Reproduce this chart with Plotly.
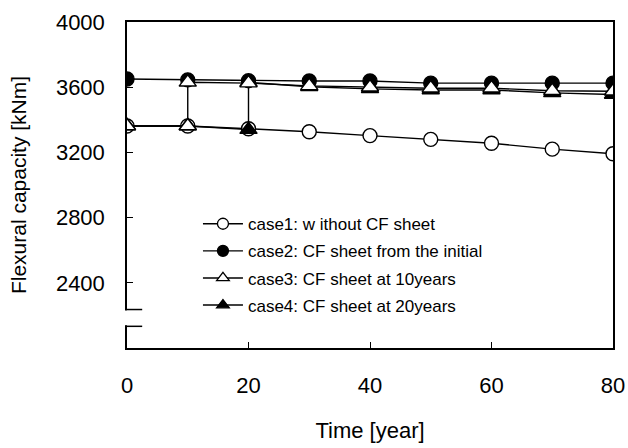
import plotly.graph_objects as go

# Data
case1_x = [0, 10, 20, 30, 40, 50, 60, 70, 80]
case1_y = [3362, 3362, 3345, 3327, 3303, 3280, 3256, 3220, 3192]

case2_x = [0, 10, 20, 30, 40, 50, 60, 70, 80]
case2_y = [3650, 3645, 3640, 3638, 3638, 3625, 3625, 3625, 3625]

case3_x = [0, 10, 10, 20, 30, 40, 50, 60, 70, 80]
case3_y = [3362, 3362, 3630, 3625, 3608, 3600, 3594, 3594, 3578, 3575]

case4_x = [0, 10, 20, 20, 30, 40, 50, 60, 70, 80]
case4_y = [3362, 3362, 3340, 3630, 3603, 3590, 3583, 3583, 3565, 3555]

names = [
    "case1: w ithout CF sheet",
    "case2: CF sheet from the initial",
    "case3: CF sheet at 10years",
    "case4: CF sheet at 20years",
]

x_ticks = [0, 20, 40, 60, 80]
y_ticks = [2400, 2800, 3200, 3600, 4000]

FONT = "Liberation Sans, Arial, sans-serif"

fig = go.Figure()
line = dict(color="black", width=1.4)

series = [
    (case1_x, case1_y, "circle", "white", 14, 0),
    (case2_x, case2_y, "circle", "black", 14, 1),
    (case4_x, case4_y, "triangle-up", "black", 15, 3),
    (case3_x, case3_y, "triangle-up", "white", 15, 2),
]
for xs, ys, sym, fill, sz, idx in series:
    fig.add_trace(go.Scatter(x=xs, y=ys, mode="lines+markers", name=names[idx],
                             showlegend=False, line=line,
                             marker=dict(symbol=sym, size=sz, color=fill,
                                         line=dict(color="black", width=1.4))))

# legend entries with smaller symbols, in case order
legend_specs = [("circle", "white"), ("circle", "black"),
                ("triangle-up", "white"), ("triangle-up", "black")]
for idx, (sym, fill) in enumerate(legend_specs):
    fig.add_trace(go.Scatter(x=[None], y=[None], mode="lines+markers", name=names[idx],
                             legendgroup=f"g{idx}", line=line,
                             marker=dict(symbol=sym, size=11, color=fill,
                                         line=dict(color="black", width=1.3))))

# axis break
fig.add_shape(type="rect", xref="paper", yref="y", x0=-0.01, x1=0.01, y0=2140, y1=2230,
              fillcolor="white", line=dict(width=0), layer="above")
for yb in [2236, 2133]:
    fig.add_shape(type="line", xref="x", yref="y", x0=-2.4, x1=2.5, y0=yb, y1=yb,
                  line=dict(color="black", width=1.5), layer="above")

fig.update_layout(
    width=628, height=448,
    margin=dict(l=127, r=15, t=22, b=100),
    paper_bgcolor="white", plot_bgcolor="white",
    font=dict(family=FONT, color="black"),
    showlegend=True,
    legend=dict(x=0.146, y=0.435, xanchor="left", yanchor="top",
                bgcolor="rgba(0,0,0,0)", font=dict(size=17, family=FONT),
                tracegroupgap=2, itemwidth=40),
)
fig.update_xaxes(range=[0, 80], tickvals=x_ticks, ticks="inside", ticklen=6,
                 tickcolor="black", showline=True, linecolor="black", linewidth=1.5,
                 mirror=True, showgrid=False, zeroline=False, automargin=False,
                 tickfont=dict(size=22, family=FONT), ticklabelstandoff=17,
                 title=dict(text="Time [year]", font=dict(size=22, family=FONT), standoff=25))
fig.update_yaxes(range=[2000, 4000], tickvals=y_ticks, ticks="inside", ticklen=6,
                 tickcolor="black", showline=True, linecolor="black", linewidth=1.5,
                 mirror=True, showgrid=False, zeroline=False, automargin=False,
                 tickfont=dict(size=22, family=FONT), ticklabelstandoff=16,
                 title=dict(text="Flexural capacity [kNm]", font=dict(size=21, family=FONT),
                            standoff=24))

fig.write_html("out.html", config={"displayModeBar": False},
               post_script="document.body.style.margin='0';document.body.style.overflow='hidden';")
